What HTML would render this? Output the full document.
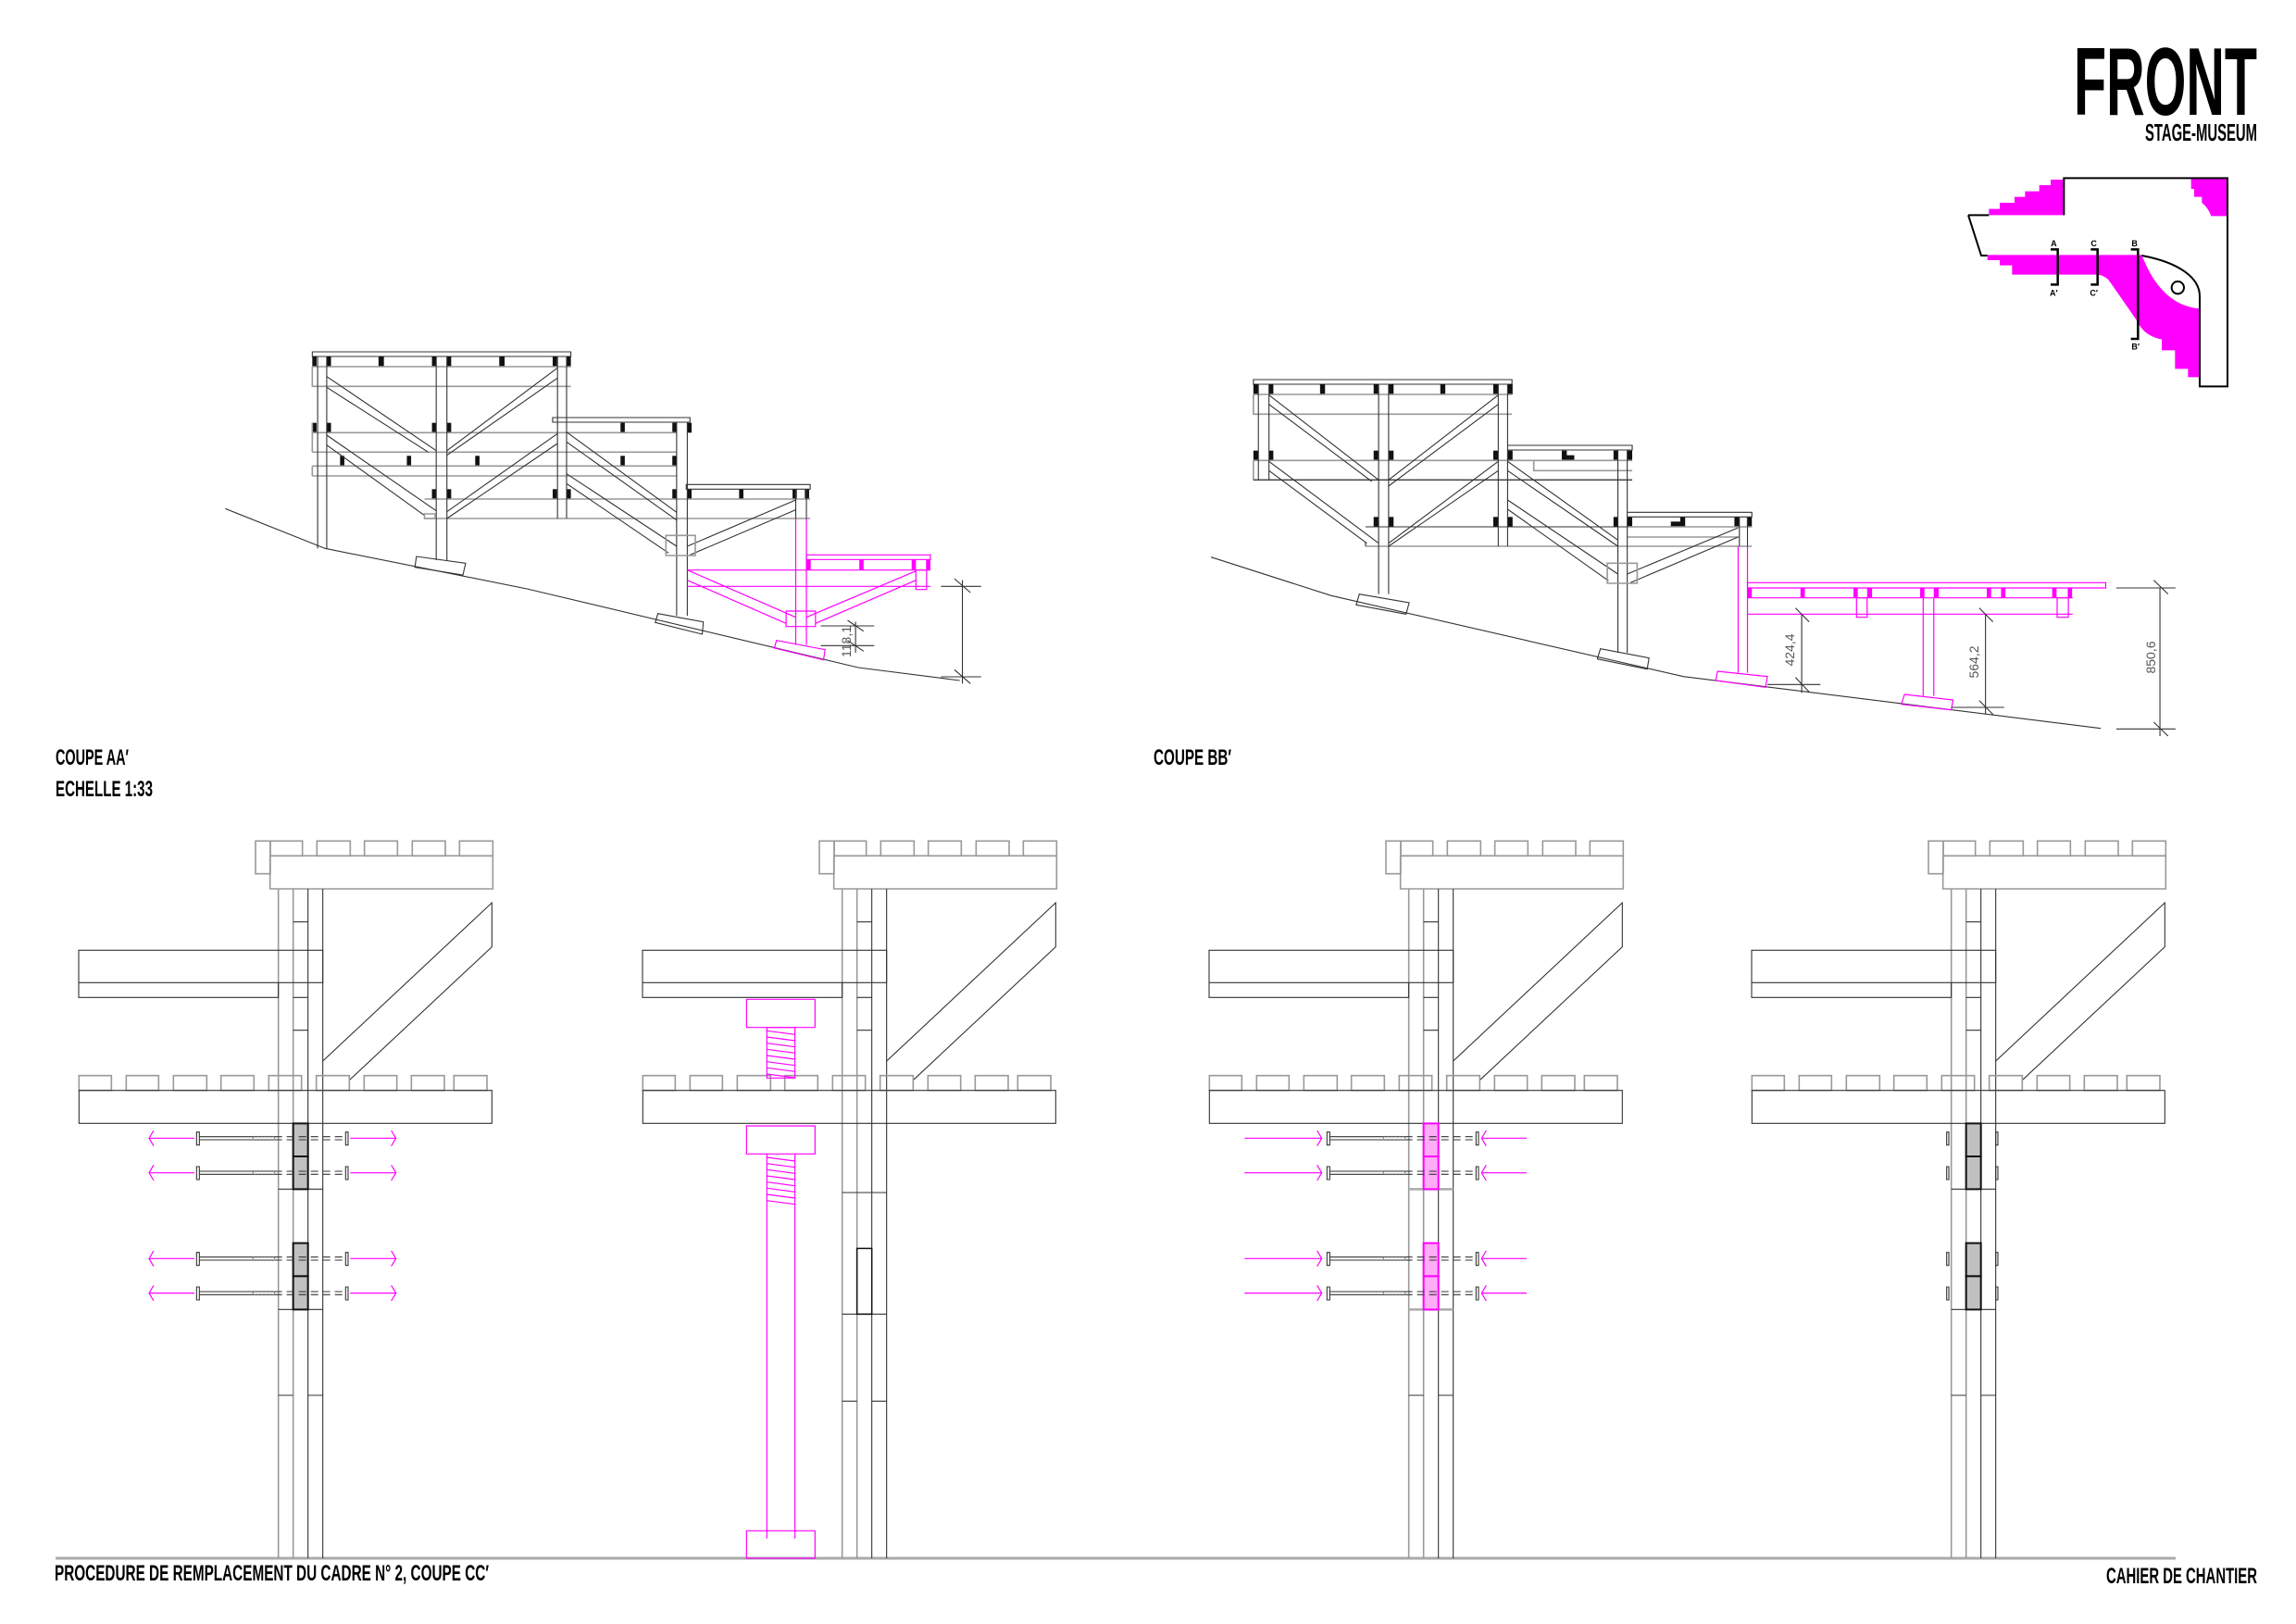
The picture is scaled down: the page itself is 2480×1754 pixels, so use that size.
<!DOCTYPE html>
<html><head><meta charset="utf-8"><style>
html,body{margin:0;padding:0;background:#fff}
svg{display:block}
.t{font-family:"Liberation Sans Narrow","Liberation Sans",sans-serif;font-weight:bold;fill:#000}
.d{font-family:"Liberation Sans",sans-serif;fill:#555;font-size:14px}
</style></head><body>
<svg width="2480" height="1754" viewBox="0 0 2480 1754" xmlns="http://www.w3.org/2000/svg" xmlns:xlink="http://www.w3.org/1999/xlink">
<defs>
<style>
path,line,rect,polyline,polygon,circle{vector-effect:non-scaling-stroke}
.k{stroke:#333;stroke-width:1.1;fill:none}
.g{stroke:#999;stroke-width:1.6;fill:none}
.m{stroke:#f0f;stroke-width:1.2;fill:none}
.mf{fill:#f0f;stroke:none}
.bf{fill:#111;stroke:none}
</style>
<!-- panel upper common, zoom3 coords -->
<g id="top">
<rect x="648" y="25" width="48" height="106" class="g"/>
<rect x="696" y="25" width="104" height="48" class="g"/>
<rect x="847" y="25" width="108" height="48" class="g"/>
<rect x="1001" y="25" width="107" height="48" class="g"/>
<rect x="1156" y="25" width="107" height="48" class="g"/>
<rect x="1309" y="25" width="108" height="48" class="g"/>
<rect x="695" y="73" width="722" height="107" class="g"/>
<line x1="722" y1="180" x2="722" y2="2349" class="g"/>
<line x1="770" y1="180" x2="770" y2="2349" class="g"/>
<line x1="818" y1="180" x2="818" y2="2349" class="k"/>
<line x1="866" y1="180" x2="866" y2="2349" class="k"/>
<line x1="770" y1="287" x2="818" y2="287" class="k"/>
<line x1="770" y1="532" x2="818" y2="532" class="k"/>
<line x1="770" y1="638" x2="818" y2="638" class="k"/>
<rect x="75" y="379" width="791" height="105" class="k" fill="#fff"/>
<polyline points="722,484 722,532 75,532 75,484" class="k"/>
<polyline points="866,738 1414,225 1414,368 952,800" class="k"/>
<rect x="76" y="785" width="105" height="48" class="g"/>
<rect x="229" y="785" width="105" height="48" class="g"/>
<rect x="382" y="785" width="108" height="48" class="g"/>
<rect x="536" y="785" width="107" height="48" class="g"/>
<rect x="691" y="785" width="106" height="48" class="g"/>
<rect x="845" y="785" width="107" height="48" class="g"/>
<rect x="1000" y="785" width="106" height="48" class="g"/>
<rect x="1153" y="785" width="107" height="48" class="g"/>
<rect x="1291" y="785" width="107" height="48" class="g"/>
<rect x="76" y="833" width="1338" height="107" class="k" fill="#fff"/>
</g>
<g id="bolt">
<line x1="466" y1="-5" x2="710" y2="-5" class="k"/>
<line x1="466" y1="5" x2="710" y2="5" class="k"/>
<rect x="640" y="-6" width="70" height="12" fill="none" stroke="#777" stroke-width="1" stroke-dasharray="2,2"/>
<rect x="457" y="-20" width="9" height="42" class="k" fill="#fff"/>
<line x1="710" y1="-5" x2="940" y2="-5" class="k" stroke-dasharray="8,5"/>
<line x1="710" y1="5" x2="940" y2="5" class="k" stroke-dasharray="8,5"/>
<rect x="940" y="-20" width="8" height="42" class="k" fill="#fff"/>
</g>
<g id="arrOut">
<line x1="303" y1="0" x2="450" y2="0" class="m"/>
<polyline points="318,-25 303,0 318,25" class="m"/>
<line x1="955" y1="0" x2="1103" y2="0" class="m"/>
<polyline points="1088,-25 1103,0 1088,25" class="m"/>
</g>
<g id="arrIn">
<line x1="190" y1="0" x2="440" y2="0" class="m"/>
<polyline points="425,-25 440,0 425,25" class="m"/>
<line x1="958" y1="0" x2="1104" y2="0" class="m"/>
<polyline points="973,-25 958,0 973,25" class="m"/>
</g>
<g id="heads">
<rect x="707" y="-20" width="7" height="42" class="k" fill="#fff"/>
<rect x="866" y="-20" width="7" height="42" class="k" fill="#fff"/>
</g>
</defs>

<!-- Title -->
<text class="t" x="2240" y="124" font-size="104" textLength="198" lengthAdjust="spacingAndGlyphs">FRONT</text>
<text class="t" x="2317" y="152" font-size="26" textLength="121" lengthAdjust="spacingAndGlyphs">STAGE-MUSEUM</text>

<!-- Logo plan -->
<g transform="translate(2100,0) scale(0.33333)">
<path class="mf" d="M145,697 V677 H180 V657 H228 V638 H262 V620 H308 V600 H345 V582 H388 V697 Z"/>
<path class="mf" d="M800,575 H920 V700 H865 Q855,672 835,657 V638 H810 V612 H800 Z"/>
<path class="mf" d="M140,826 H640 C670,900 720,990 828,1000 V1222 H790 V1195 H748 V1135 H705 V1100 C660,1090 640,1070 625,1040 L535,910 C520,893 505,890 490,890 H220 V860 H180 V843 H140 Z"/>
<path d="M388,697 V577 H918 V1252 H828 V960 C828,900 760,850 640,828" fill="none" stroke="#000" stroke-width="2"/>
<path d="M78,697 H145 M78,697 L120,828 H140" fill="none" stroke="#000" stroke-width="2"/>
<circle cx="757" cy="932" r="20" fill="#fff" stroke="#000" stroke-width="2"/>
<path d="M345,808 H368 V922 H345 M475,808 H497 V922 H475 M605,808 H628 V1098 H605" fill="none" stroke="#000" stroke-width="2.5"/>
<g class="t" font-size="27" text-anchor="middle">
<text x="355" y="798">A</text><text x="355" y="958">A′</text>
<text x="485" y="798">C</text><text x="485" y="958">C′</text>
<text x="617" y="798">B</text><text x="620" y="1133">B′</text>
</g>
</g>

<!-- COUPE AA' -->
<g transform="translate(200,360) scale(0.577,0.33333)">
<polyline points="75,568 262,697 640,828 1260,1083 1450,1125" class="k"/>
<rect x="238" y="60" width="484" height="15" class="k"/>
<g class="bf">
<rect x="238" y="75" width="8" height="33"/><rect x="265" y="75" width="8" height="33"/><rect x="362" y="75" width="10" height="33"/><rect x="462" y="75" width="8" height="33"/><rect x="490" y="75" width="8" height="33"/><rect x="588" y="75" width="10" height="33"/><rect x="688" y="75" width="8" height="33"/><rect x="714" y="75" width="8" height="33"/>
<rect x="238" y="290" width="8" height="32"/><rect x="265" y="290" width="8" height="32"/><rect x="462" y="290" width="8" height="32"/><rect x="490" y="290" width="8" height="32"/><rect x="815" y="290" width="8" height="32"/><rect x="912" y="290" width="8" height="32"/><rect x="940" y="290" width="8" height="32"/>
<rect x="290" y="397" width="8" height="33"/><rect x="415" y="397" width="8" height="33"/><rect x="543" y="397" width="8" height="33"/><rect x="815" y="397" width="8" height="33"/><rect x="912" y="397" width="8" height="33"/>
<rect x="462" y="505" width="8" height="32"/><rect x="490" y="505" width="8" height="32"/><rect x="688" y="505" width="8" height="32"/><rect x="714" y="505" width="8" height="32"/><rect x="912" y="505" width="8" height="32"/><rect x="940" y="505" width="8" height="32"/><rect x="1037" y="505" width="8" height="32"/><rect x="1137" y="505" width="8" height="32"/><rect x="1160" y="505" width="8" height="32"/>
</g>
<path class="g" d="M238,108 H722 M238,108 V172 H722 M238,322 H920 M238,385 H920 M238,430 H920 M238,462 H920 M448,537 H1170 M448,600 H1170 M238,290 V385 M238,430 V462"/>
<path class="k" d="M248,75 V697 M265,75 V697 M470,75 V735 M490,75 V735 M697,75 V600 M714,75 V600 M920,288 V915 M940,288 V915 M688,273 H945 V288 H688 Z M938,490 H1170 V505 H938 Z M1143,505 V600 M1163,505 V600"/>
<path class="k" d="M265,140 L470,380 M265,175 L455,385 M697,112 L490,380 M697,145 L490,395 M265,330 L470,575 M265,362 L448,590 M697,325 L490,578 M697,357 L490,600 M714,320 L920,580 M714,352 L920,605 M714,455 L920,690 M714,487 L905,712 M1143,540 L940,690 M1143,572 L945,718"/>
<rect x="900" y="655" width="55" height="65" class="g"/>
<rect x="448" y="585" width="20" height="15" class="g"/>
<polygon points="433,723 525,745 520,783 430,758" class="k"/>
<polygon points="885,908 970,935 968,975 880,937" class="k"/>
<!-- pink -->
<rect x="1163" y="718" width="232" height="15" class="m"/>
<g class="mf"><rect x="1163" y="733" width="8" height="34"/><rect x="1262" y="733" width="8" height="34"/><rect x="1360" y="733" width="8" height="34"/><rect x="1387" y="733" width="8" height="34"/></g>
<path class="m" d="M940,767 H1395 M940,820 H1395 M1143,600 V1010 M1163,600 V1010 M940,767 L1143,920 M940,800 L1125,940 M1368,770 L1163,920 M1368,800 L1180,940"/>
<rect x="1368" y="767" width="20" height="63" class="m"/>
<rect x="1125" y="900" width="55" height="50" class="m"/>
<polygon points="1107,995 1198,1025 1195,1058 1103,1020" class="m"/>
<path class="k" d="M1455,800 V1135 M1415,820 H1490 M1415,1113 H1490 M1440,795 L1470,840 M1440,1090 L1470,1135 M1255,935 V1035 M1190,948 H1290 M1190,1012 H1290 M1240,930 L1270,965 M1240,995 L1270,1030"/>
</g>
<text class="d" transform="translate(919,693) rotate(-90)" text-anchor="middle">118,1</text>

<!-- COUPE BB' -->
<g transform="translate(1300,390) scale(0.673,0.33333)">
<polyline points="12,635 205,760 770,1022 1440,1190" class="k"/>
<rect x="80" y="60" width="415" height="15" class="k"/>
<g class="bf">
<rect x="80" y="75" width="8" height="33"/><rect x="105" y="75" width="7" height="33"/><rect x="187" y="75" width="8" height="33"/><rect x="273" y="75" width="8" height="33"/><rect x="297" y="75" width="8" height="33"/><rect x="380" y="75" width="8" height="33"/><rect x="465" y="75" width="8" height="33"/><rect x="488" y="75" width="8" height="33"/>
<rect x="80" y="290" width="8" height="32"/><rect x="105" y="290" width="7" height="32"/><rect x="273" y="290" width="8" height="32"/><rect x="297" y="290" width="8" height="32"/><rect x="465" y="290" width="8" height="32"/><rect x="488" y="290" width="8" height="32"/><rect x="575" y="290" width="8" height="32"/><rect x="575" y="305" width="20" height="17"/><rect x="658" y="290" width="7" height="32"/><rect x="680" y="290" width="8" height="32"/>
<rect x="273" y="505" width="8" height="32"/><rect x="297" y="505" width="8" height="32"/><rect x="465" y="505" width="8" height="32"/><rect x="488" y="505" width="8" height="32"/><rect x="658" y="505" width="7" height="32"/><rect x="680" y="505" width="8" height="32"/><rect x="765" y="505" width="8" height="32"/><rect x="750" y="520" width="20" height="17"/><rect x="852" y="505" width="8" height="32"/><rect x="872" y="505" width="8" height="32"/>
</g>
<path class="g" d="M80,108 H495 M80,108 V172 H495 M80,322 H688 M80,385 H688 M80,322 V385 M260,600 H880 M680,537 H880 M680,570 H860 M530,322 V355 H688"/>
<path class="k" d="M88,75 V385 M105,75 V385 M281,75 V755 M297,75 V755 M473,75 V600 M488,75 V600 M665,288 V945 M680,288 V945 M488,273 H688 V288 H488 Z M680,490 H880 V505 H680 Z M860,505 V600 M873,505 V600 M80,385 H688 M260,537 H680 M260,600 V585"/>
<path class="k" d="M105,110 L281,385 M105,140 L270,390 M473,110 L297,385 M473,140 L297,405 M105,325 L281,590 M105,355 L262,590 M473,325 L297,590 M473,355 L297,600 M488,325 L665,580 M488,355 L665,600 M488,450 L665,690 M488,480 L650,712 M858,540 L680,690 M858,570 L685,718"/>
<rect x="648" y="655" width="48" height="65" class="g"/>
<polygon points="250,755 330,783 325,820 245,790" class="k"/>
<polygon points="637,932 715,962 712,998 632,965" class="k"/>
<!-- pink -->
<rect x="873" y="718" width="575" height="17" class="m"/>
<g class="mf"><rect x="873" y="735" width="7" height="32"/><rect x="958" y="735" width="7" height="32"/><rect x="1043" y="735" width="7" height="32"/><rect x="1065" y="735" width="8" height="32"/><rect x="1150" y="735" width="7" height="32"/><rect x="1172" y="735" width="8" height="32"/><rect x="1257" y="735" width="7" height="32"/><rect x="1280" y="735" width="7" height="32"/><rect x="1362" y="735" width="7" height="32"/><rect x="1387" y="735" width="7" height="32"/></g>
<path class="m" d="M873,767 H1395 M873,820 H1395 M858,600 V1010 M873,600 V1010 M1155,767 V1085 M1172,767 V1085"/>
<rect x="1048" y="767" width="17" height="63" class="m"/>
<rect x="1370" y="767" width="18" height="63" class="m"/>
<polygon points="825,1005 905,1022 902,1057 822,1035" class="m"/>
<polygon points="1125,1080 1203,1098 1200,1130 1120,1112" class="m"/>
<path class="k" d="M960,820 V1075 M905,1048 H990 M950,800 L972,845 M950,1025 L972,1072 M1255,820 V1145 M1200,1122 H1285 M1245,800 L1267,845 M1245,1100 L1267,1145 M1535,735 V1215 M1465,735 H1560 M1465,1192 H1560 M1525,710 L1548,755 M1525,1170 L1548,1215"/>
</g>
<text class="d" transform="translate(1938,702) rotate(-90)" text-anchor="middle">424,4</text>
<text class="d" transform="translate(2137,715) rotate(-90)" text-anchor="middle">564,2</text>
<text class="d" transform="translate(2328,710) rotate(-90)" text-anchor="middle">850,6</text>

<!-- Ground line bottom -->
<line x1="60" y1="1683" x2="2350" y2="1683" stroke="#aaa" stroke-width="3"/>

<!-- Panel 1 -->
<g transform="translate(60,900) scale(0.33333)">
<use xlink:href="#top"/>
<path class="k" d="M722,1153 H866 M722,1543 H866 M722,1821 H770 M818,1821 H866"/>
<g fill="#c0c0c0" stroke="#111" stroke-width="2"><rect x="770" y="940" width="48" height="107"/><rect x="770" y="1047" width="48" height="106"/><rect x="770" y="1328" width="48" height="107"/><rect x="770" y="1435" width="48" height="108"/></g>
<use xlink:href="#bolt" y="988"/><use xlink:href="#bolt" y="1100"/><use xlink:href="#bolt" y="1378"/><use xlink:href="#bolt" y="1490"/>
<use xlink:href="#arrOut" y="988"/><use xlink:href="#arrOut" y="1100"/><use xlink:href="#arrOut" y="1378"/><use xlink:href="#arrOut" y="1490"/>
</g>

<!-- Panel 2 -->
<g transform="translate(669,900) scale(0.33333)">
<use xlink:href="#top"/>
<path class="k" d="M722,1164 H866 M722,1558 H866 M722,1840 H770 M818,1840 H866"/>
<rect x="770" y="1345" width="48" height="213" fill="none" stroke="#111" stroke-width="1.5"/>
<rect x="412" y="538" width="222" height="91" class="m" fill="#fff"/>
<rect x="478" y="629" width="91" height="164" class="m" fill="#fff"/>
<path class="m" d="M478,640 L569,652 M478,660 L569,672 M478,680 L569,692 M478,700 L569,712 M478,720 L569,732 M478,740 L569,752 M478,760 L569,772 M478,780 L569,792"/>
<rect x="412" y="948" width="222" height="91" class="m" fill="#fff"/>
<path class="m" d="M478,1039 V2285 M569,1039 V2285"/>
<path class="m" d="M478,1050 L569,1062 M478,1070 L569,1082 M478,1090 L569,1102 M478,1110 L569,1122 M478,1130 L569,1142 M478,1150 L569,1162 M478,1170 L569,1182 M478,1190 L569,1202"/>
<rect x="412" y="2260" width="222" height="89" class="m" fill="#fff"/>
</g>

<!-- Panel 3 -->
<g transform="translate(1281,900) scale(0.33333)">
<use xlink:href="#top"/>
<path class="k" d="M722,1821 H770 M818,1821 H866"/>
<path d="M722,1153 H866 M722,1543 H866" stroke="#aaa" stroke-width="2.5" vector-effect="non-scaling-stroke"/>
<g fill="#ffadf5" stroke="#f0f" stroke-width="2"><rect x="770" y="940" width="48" height="107"/><rect x="770" y="1047" width="48" height="106"/><rect x="770" y="1328" width="48" height="107"/><rect x="770" y="1435" width="48" height="108"/></g>
<use xlink:href="#bolt" y="988"/><use xlink:href="#bolt" y="1100"/><use xlink:href="#bolt" y="1378"/><use xlink:href="#bolt" y="1490"/>
<use xlink:href="#arrIn" y="988"/><use xlink:href="#arrIn" y="1100"/><use xlink:href="#arrIn" y="1378"/><use xlink:href="#arrIn" y="1490"/>
</g>

<!-- Panel 4 -->
<g transform="translate(1867,900) scale(0.33333)">
<use xlink:href="#top"/>
<path class="k" d="M722,1153 H866 M722,1543 H866 M722,1821 H770 M818,1821 H866"/>
<g fill="#c0c0c0" stroke="#111" stroke-width="2"><rect x="770" y="940" width="48" height="107"/><rect x="770" y="1047" width="48" height="106"/><rect x="770" y="1328" width="48" height="107"/><rect x="770" y="1435" width="48" height="108"/></g>
<use xlink:href="#heads" y="988"/><use xlink:href="#heads" y="1100"/><use xlink:href="#heads" y="1378"/><use xlink:href="#heads" y="1490"/>
</g>

<!-- Labels -->
<text class="t" x="60" y="826" font-size="24" textLength="79" lengthAdjust="spacingAndGlyphs">COUPE AA′</text>
<text class="t" x="60" y="860" font-size="24" textLength="105" lengthAdjust="spacingAndGlyphs">ECHELLE 1:33</text>
<text class="t" x="1246" y="826" font-size="24" textLength="84" lengthAdjust="spacingAndGlyphs">COUPE BB′</text>
<text class="t" x="59" y="1707" font-size="24" textLength="469" lengthAdjust="spacingAndGlyphs">PROCEDURE DE REMPLACEMENT DU CADRE N° 2, COUPE CC′</text>
<text class="t" x="2275" y="1710" font-size="24" textLength="163" lengthAdjust="spacingAndGlyphs">CAHIER DE CHANTIER</text>
</svg>
</body></html>
